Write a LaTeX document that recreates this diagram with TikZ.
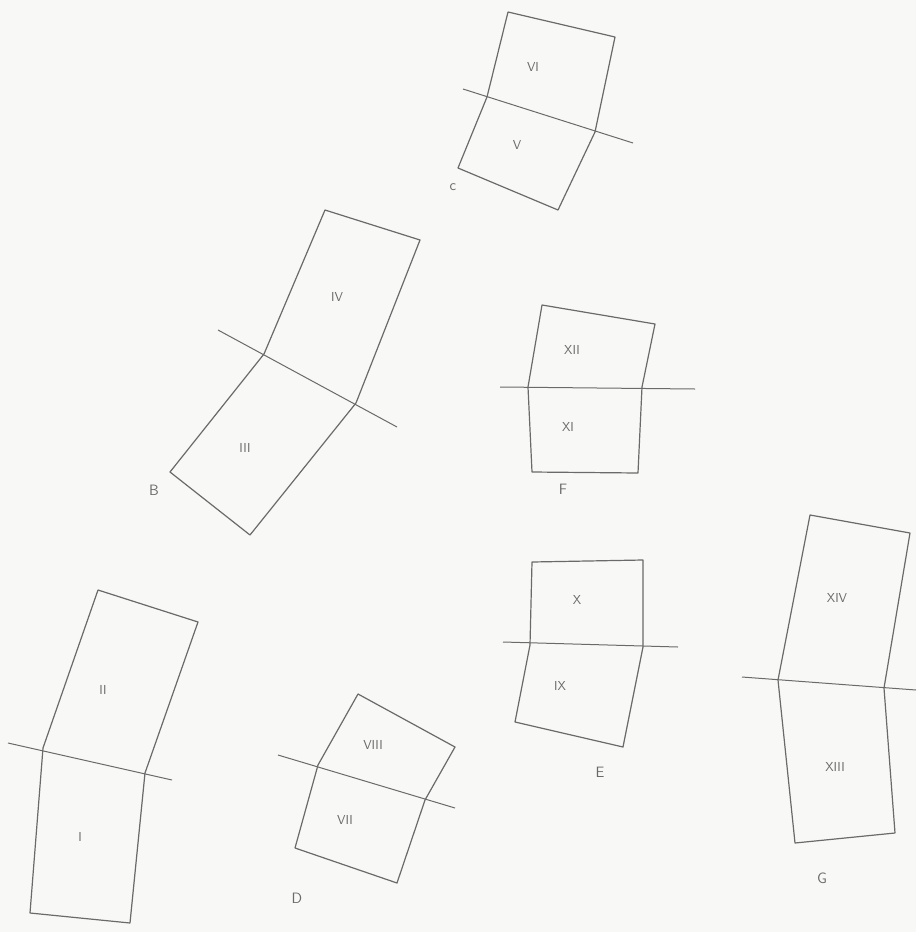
\documentclass[tikz,border=0pt]{standalone}
\usetikzlibrary{positioning}
\definecolor{pencil}{HTML}{6A6A6A}
\definecolor{paper}{HTML}{F8F8F6}

\begin{document}
\begin{tikzpicture}[x=1pt, y=-1pt,
  panel/.style={draw=pencil, line width=1.2pt, line join=round},
  hinge/.style={draw=pencil, line width=1pt},
  num/.style={text=pencil, font=\fontsize{13}{15}\selectfont\sffamily},
  tag/.style={text=pencil, font=\fontsize{15}{17}\selectfont\sffamily}]
  % Paper
  \fill[paper] (0,0) rectangle (916,932);
  \useasboundingbox (0,0) rectangle (916,932);

  % Pair A
  \coordinate (a-tl) at (98,590);  \coordinate (a-tr) at (198,622);
  \coordinate (a-hl) at (43,748);  \coordinate (a-hr) at (145,773);
  \coordinate (a-bl) at (30,913);  \coordinate (a-br) at (130,923);
  \draw[panel] (a-hl) -- (a-tl) -- (a-tr) -- (a-hr);
  \draw[panel] (a-hl) -- (a-bl) -- (a-br) -- (a-hr);
  \coordinate (a-la) at (8,743);   \coordinate (a-lb) at (172,780);
  \draw[hinge] (a-la) -- (a-lb);
  \node[num] (a-up) at (103,690) {II};
  \node[num] (a-dn) at (80,837) {I};

  % Pair B
  \coordinate (b-tl) at (325,210); \coordinate (b-tr) at (420,240);
  \coordinate (b-hl) at (264,354); \coordinate (b-hr) at (356,403);
  \coordinate (b-bl) at (170,472); \coordinate (b-br) at (250,535);
  \draw[panel] (b-hl) -- (b-tl) -- (b-tr) -- (b-hr);
  \draw[panel] (b-hl) -- (b-bl) -- (b-br) -- (b-hr);
  \coordinate (b-la) at (218,330); \coordinate (b-lb) at (397,427);
  \draw[hinge] (b-la) -- (b-lb);
  \node[num] (b-up) at (337,297) {IV};
  \node[num] (b-dn) at (245,448) {III};
  \node[tag] (b-tag) at (154,490) {B};

  % Pair C
  \coordinate (c-tl) at (508,12);  \coordinate (c-tr) at (615,37);
  \coordinate (c-hl) at (487,97);  \coordinate (c-hr) at (595,132);
  \coordinate (c-bl) at (458,168); \coordinate (c-br) at (558,210);
  \draw[panel] (c-hl) -- (c-tl) -- (c-tr) -- (c-hr);
  \draw[panel] (c-hl) -- (c-bl) -- (c-br) -- (c-hr);
  \coordinate (c-la) at (463,89);  \coordinate (c-lb) at (633,143);
  \draw[hinge] (c-la) -- (c-lb);
  \node[num] (c-up) at (533,67) {VI};
  \node[num] (c-dn) at (517,145) {V};
  \node[tag] (c-tag) at (453,187) {c};

  % Pair D
  \coordinate (d-tl) at (358,694); \coordinate (d-tr) at (455,747);
  \coordinate (d-hl) at (318,765); \coordinate (d-hr) at (425,800);
  \coordinate (d-bl) at (295,848); \coordinate (d-br) at (397,883);
  \draw[panel] (d-hl) -- (d-tl) -- (d-tr) -- (d-hr);
  \draw[panel] (d-hl) -- (d-bl) -- (d-br) -- (d-hr);
  \coordinate (d-la) at (278,755); \coordinate (d-lb) at (455,808);
  \draw[hinge] (d-la) -- (d-lb);
  \node[num] (d-up) at (373,745) {VIII};
  \node[num] (d-dn) at (345,820) {VII};
  \node[tag] (d-tag) at (297,898) {D};

  % Pair E
  \coordinate (e-tl) at (532,562); \coordinate (e-tr) at (643,560);
  \coordinate (e-hl) at (530,645); \coordinate (e-hr) at (643,647);
  \coordinate (e-bl) at (515,722); \coordinate (e-br) at (623,747);
  \draw[panel] (e-hl) -- (e-tl) -- (e-tr) -- (e-hr);
  \draw[panel] (e-hl) -- (e-bl) -- (e-br) -- (e-hr);
  \coordinate (e-la) at (503,642); \coordinate (e-lb) at (678,647);
  \draw[hinge] (e-la) -- (e-lb);
  \node[num] (e-up) at (577,600) {X};
  \node[num] (e-dn) at (560,686) {IX};
  \node[tag] (e-tag) at (600,772) {E};

  % Pair F
  \coordinate (f-tl) at (542,305); \coordinate (f-tr) at (655,324);
  \coordinate (f-hl) at (528,387); \coordinate (f-hr) at (642,387);
  \coordinate (f-bl) at (532,472); \coordinate (f-br) at (638,473);
  \draw[panel] (f-hl) -- (f-tl) -- (f-tr) -- (f-hr);
  \draw[panel] (f-hl) -- (f-bl) -- (f-br) -- (f-hr);
  \coordinate (f-la) at (500,387); \coordinate (f-lb) at (695,389);
  \draw[hinge] (f-la) -- (f-lb);
  \node[num] (f-up) at (572,350) {XII};
  \node[num] (f-dn) at (568,427) {XI};
  \node[tag] (f-tag) at (563,489) {F};

  % Pair G
  \coordinate (g-tl) at (810,515); \coordinate (g-tr) at (910,533);
  \coordinate (g-hl) at (778,680); \coordinate (g-hr) at (884,688);
  \coordinate (g-bl) at (795,843); \coordinate (g-br) at (895,833);
  \draw[panel] (g-hl) -- (g-tl) -- (g-tr) -- (g-hr);
  \draw[panel] (g-hl) -- (g-bl) -- (g-br) -- (g-hr);
  \coordinate (g-la) at (742,677); \coordinate (g-lb) at (916,690);
  \draw[hinge] (g-la) -- (g-lb);
  \node[num] (g-up) at (837,598) {XIV};
  \node[num] (g-dn) at (835,767) {XIII};
  \node[tag] (g-tag) at (822,878) {G};
\end{tikzpicture}
\end{document}
